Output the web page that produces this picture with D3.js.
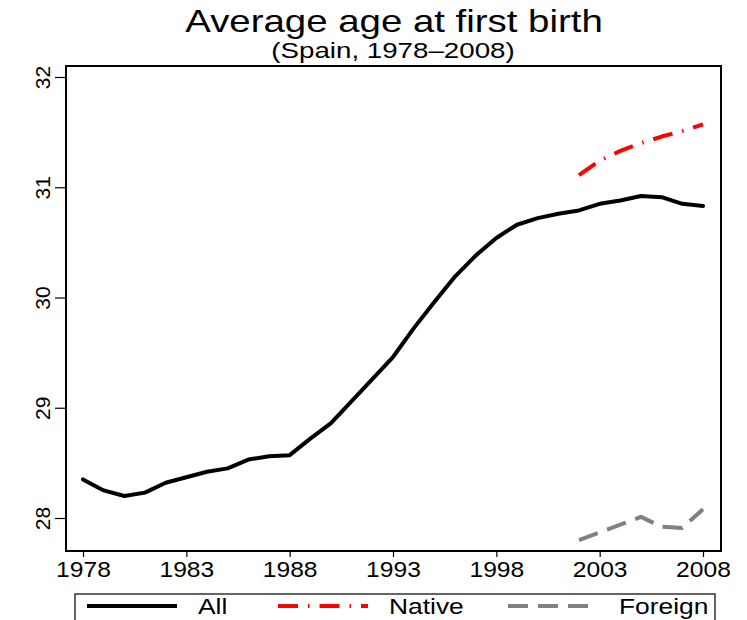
<!DOCTYPE html>
<html>
<head>
<meta charset="utf-8">
<script src="https://cdn.jsdelivr.net/npm/d3@7"></script>
<style>
  body { margin: 0; background: #fff; }
  svg { display: block; font-family: "Liberation Sans", Arial, Helvetica, sans-serif; }
</style>
</head>
<body>
<div id="chart"></div>
<script>
// data
const years = [1978, 1979, 1980, 1981, 1982, 1983, 1984, 1985, 1986, 1987, 1988, 1989, 1990,
    1991, 1992, 1993, 1994, 1995, 1996, 1997, 1998, 1999, 2000, 2001, 2002, 2003, 2004,
    2005, 2006, 2007, 2008];
const allAge = [28.35, 28.25, 28.20, 28.23, 28.32, 28.37, 28.42, 28.45, 28.53, 28.56, 28.57,
    28.72, 28.86, 29.06, 29.26, 29.46, 29.72, 29.96, 30.19, 30.38, 30.54, 30.66, 30.72,
    30.76, 30.79, 30.85, 30.88, 30.92, 30.91, 30.85, 30.83];
const subYears = [2002, 2003, 2004, 2005, 2006, 2007, 2008];
const nativeAge = [31.11, 31.24, 31.33, 31.40, 31.46, 31.51, 31.57];
const foreignAge = [27.80, 27.87, 27.94, 28.01, 27.92, 27.91, 28.08];
const xTicks = [1978, 1983, 1988, 1993, 1998, 2003, 2008];
const yTicks = [28, 29, 30, 31, 32];
const legendLabels = ["All", "Native", "Foreign"];

const width = 747, height = 620;
const box = {left: 66, right: 721, top: 66, bottom: 551};

const svg = d3.select('#chart').append('svg')
    .attr('width', width)
    .attr('height', height);

const x = d3.scaleLinear().domain([1978, 2008]).range([83, 703]);
const y = d3.scaleLinear().domain([28, 32]).range([518, 77]);

// titles (text is a bit wide in the reference, so stretch a little)
svg.append('text')
    .attr('transform', 'translate(394,32) scale(1.2,1)')
    .attr('text-anchor', 'middle')
    .attr('font-size', 32)
    .text('Average age at first birth');

svg.append('text')
    .attr('transform', 'translate(393,58) scale(1.26,1)')
    .attr('text-anchor', 'middle')
    .attr('font-size', 22)
    .text('(Spain, 1978\u20132008)');

// axes
const xAxis = svg.append('g')
    .attr('transform', `translate(0,${box.bottom})`)
    .call(d3.axisBottom(x).tickValues(xTicks).tickFormat(d3.format('d')).tickSize(6).tickSizeOuter(0));
xAxis.select('.domain').remove();
xAxis.selectAll('line').attr('stroke', '#000').attr('stroke-width', 1.2);
xAxis.selectAll('text')
    .attr('y', 26)
    .attr('dy', 0)
    .attr('fill', '#000')
    .attr('font-size', 22)
    .attr('font-family', '"Liberation Sans", Arial, sans-serif')
    .attr('transform', 'scale(1.12,1)');

const yAxis = svg.append('g')
    .attr('transform', `translate(${box.left},0)`)
    .call(d3.axisLeft(y).tickValues(yTicks).tickFormat(d3.format('d')).tickSize(11).tickSizeOuter(0));
yAxis.select('.domain').remove();
yAxis.selectAll('line').attr('stroke', '#000').attr('stroke-width', 1.2);
yAxis.selectAll('text')
    .attr('x', 0)
    .attr('dy', 0)
    .attr('fill', '#000')
    .attr('font-size', 20)
    .attr('font-family', '"Liberation Sans", Arial, sans-serif')
    .attr('text-anchor', 'middle')
    .attr('transform', 'translate(-16,0) rotate(-90) scale(1.05,1)');

// plot frame
svg.append('rect')
    .attr('x', box.left)
    .attr('y', box.top)
    .attr('width', box.right - box.left)
    .attr('height', box.bottom - box.top)
    .attr('fill', 'none')
    .attr('stroke', '#000')
    .attr('stroke-width', 2);

// lines
const line = d3.line()
    .x(d => x(d[0]))
    .y(d => y(d[1]));

const series = [
    {name: "All", pts: d3.zip(years, allAge), color: '#000', dash: null},
    {name: "Native", pts: d3.zip(subYears, nativeAge), color: '#ff0000', dash: '20,10,1.5,10'},
    {name: "Foreign", pts: d3.zip(subYears, foreignAge), color: '#808080', dash: '20,10'}
];

svg.append('g')
    .selectAll('path')
    .data(series)
    .join('path')
    .attr('d', d => line(d.pts))
    .attr('fill', 'none')
    .attr('stroke', d => d.color)
    .attr('stroke-width', 4)
    .attr('stroke-linejoin', 'round')
    .attr('stroke-linecap', d => d.dash ? 'butt' : 'round')
    .attr('stroke-dasharray', d => d.dash);

// legend
const legend = svg.append('g');
legend.append('rect')
    .attr('x', 75)
    .attr('y', 594)
    .attr('width', 640)
    .attr('height', 60)
    .attr('fill', 'none')
    .attr('stroke', '#333')
    .attr('stroke-width', 1.5);

const legendX = [87, 278, 508];
const items = legend.selectAll('g.item')
    .data(series)
    .join('g')
    .attr('class', 'item')
    .attr('transform', (d, i) => `translate(${legendX[i]},606)`);

items.append('line')
    .attr('x1', 0)
    .attr('x2', 90)
    .attr('stroke', d => d.color)
    .attr('stroke-width', 4)
    .attr('stroke-dasharray', d => d.dash);

items.append('text')
    .attr('transform', 'translate(111,8) scale(1.2,1)')
    .attr('font-size', 22)
    .text((d, i) => legendLabels[i]);
</script>
</body>
</html>
